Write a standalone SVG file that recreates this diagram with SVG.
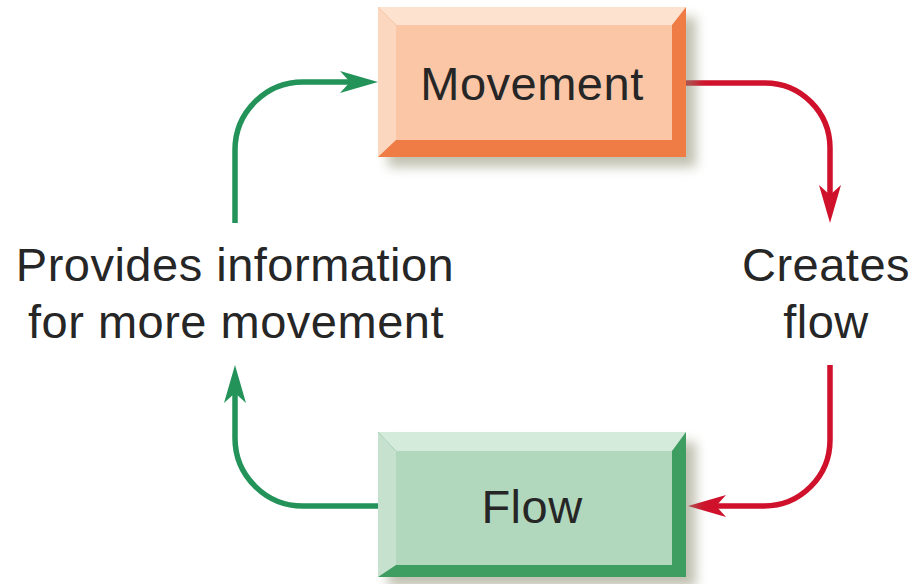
<svg xmlns="http://www.w3.org/2000/svg" width="916" height="584" viewBox="0 0 916 584">
<style>
.lbl{font-family:"Liberation Sans",Arial,sans-serif;font-size:47px;fill:#262626;text-anchor:middle;letter-spacing:0.5px}
.red{fill:none;stroke:#d0112b;stroke-width:5.5}
.grn{fill:none;stroke:#23935a;stroke-width:5.5}
</style>
<defs>
<filter id="sh" x="-10%" y="-20%" width="130%" height="150%"><feGaussianBlur stdDeviation="6"/></filter>
<marker id="ar" viewBox="-12 -12 42 24" refX="0" refY="0" markerWidth="42" markerHeight="24" markerUnits="userSpaceOnUse" orient="auto"><path d="M28,0 L-10,-11 L0,0 L-10,11 Z" fill="#d0112b"/></marker>
<marker id="ag" viewBox="-12 -12 42 24" refX="0" refY="0" markerWidth="42" markerHeight="24" markerUnits="userSpaceOnUse" orient="auto"><path d="M28,0 L-10,-11 L0,0 L-10,11 Z" fill="#23935a"/></marker>
</defs>
<rect width="916" height="584" fill="#fff"/>
<g id="connectors">
<path class="grn" d="M235,223 V150 A68,68 0 0 1 303,82 H350" marker-end="url(#ag)"/>
<path class="red" d="M686,83 H765 A65,65 0 0 1 830,148 V195" marker-end="url(#ar)"/>
<path class="red" d="M830,365 V440 A66,66 0 0 1 764,506 H716" marker-end="url(#ar)"/>
<path class="grn" d="M378,506 H303 A68,68 0 0 1 235,438 V393" marker-end="url(#ag)"/>
</g>
<g id="movement">
<rect x="388" y="17" width="308" height="150" fill="#8e8e72" opacity="0.55" filter="url(#sh)"/>
<rect x="378" y="7" width="308" height="150" fill="#ef7c45"/>
<polygon points="378,7 686,7 672,25 396,25" fill="#fde2d0"/>
<polygon points="378,7 396,25 396,140 378,157" fill="#fcd7c0"/>
<rect x="396" y="25" width="276" height="115" fill="#fac6a6"/>
<text class="lbl" x="532" y="100">Movement</text>
</g>
<g id="flow">
<rect x="388" y="442" width="308" height="145" fill="#8e8e72" opacity="0.55" filter="url(#sh)"/>
<rect x="378" y="432" width="308" height="145" fill="#3e9e62"/>
<polygon points="378,432 686,432 672,451 396,451" fill="#d4eadb"/>
<polygon points="378,432 396,451 396,565 378,577" fill="#c6e2cf"/>
<rect x="396" y="451" width="276" height="114" fill="#b1d8bd"/>
<text class="lbl" x="532" y="523">Flow</text>
</g>
<g id="labels">
<text class="lbl" x="235" y="281">Provides information</text>
<text class="lbl" x="236" y="338">for more movement</text>
<text class="lbl" x="826" y="281">Creates</text>
<text class="lbl" x="826" y="338">flow</text>
</g>
</svg>
